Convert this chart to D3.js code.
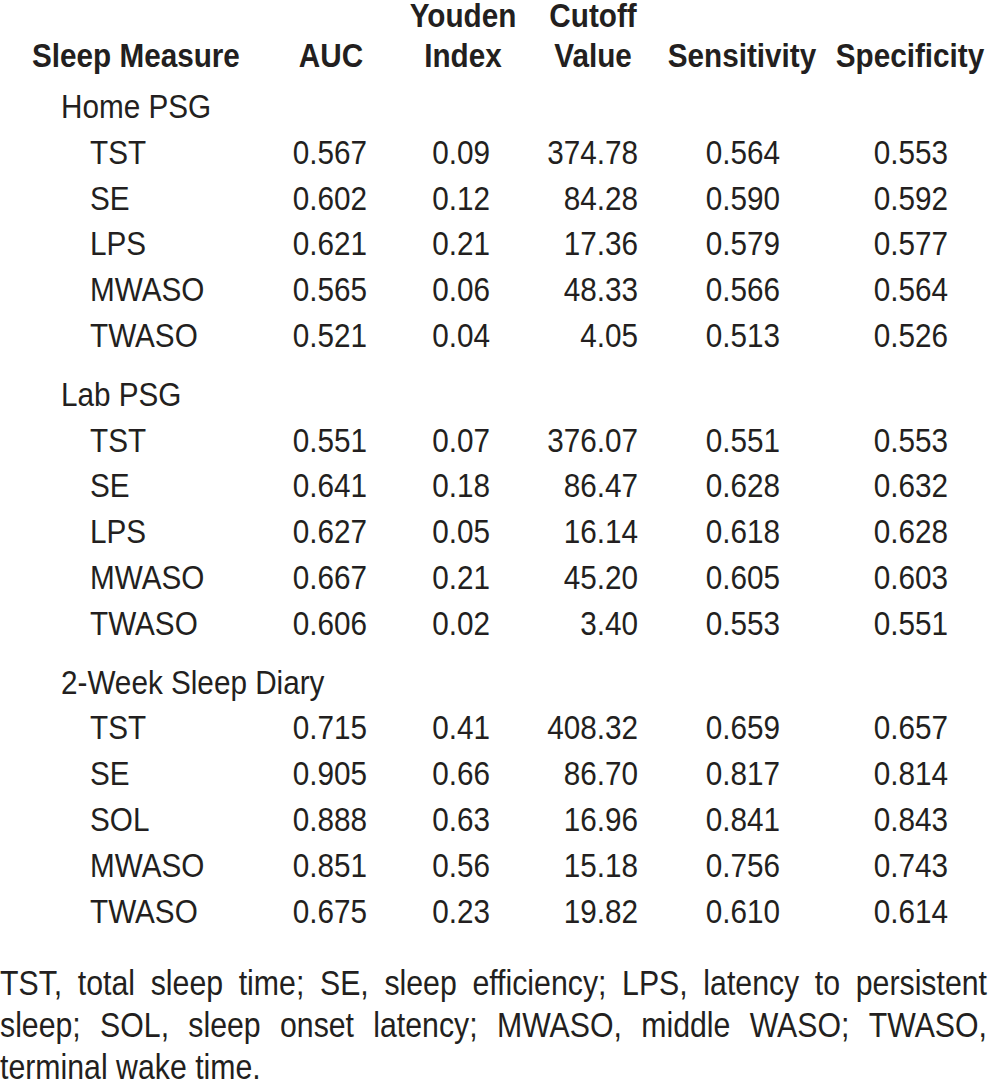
<!DOCTYPE html>
<html>
<head>
<meta charset="utf-8">
<script src="https://cdn.jsdelivr.net/npm/d3@7/dist/d3.min.js"></script>
<style>
  html, body { margin: 0; padding: 0; background: #fff; }
  svg { display: block; }
  text { font-family: "Liberation Sans", Arial, Helvetica, sans-serif; fill: #231f20; }
</style>
</head>
<body>
<svg id="chart" width="990" height="1080"></svg>
<script>
// ---------- data ----------
const headerLine1 = ["", "", "Youden", "Cutoff", "", ""];
const headerLine2 = ["Sleep Measure", "AUC", "Index", "Value", "Sensitivity", "Specificity"];
const groups = ["Home PSG", "Lab PSG", "2-Week Sleep Diary"];
const measures = [
  ["TST", "SE", "LPS", "MWASO", "TWASO"],
  ["TST", "SE", "LPS", "MWASO", "TWASO"],
  ["TST", "SE", "SOL", "MWASO", "TWASO"]
];
const auc = [
  [0.567, 0.602, 0.621, 0.565, 0.521],
  [0.551, 0.641, 0.627, 0.667, 0.606],
  [0.715, 0.905, 0.888, 0.851, 0.675]
];
const youden = [
  [0.09, 0.12, 0.21, 0.06, 0.04],
  [0.07, 0.18, 0.05, 0.21, 0.02],
  [0.41, 0.66, 0.63, 0.56, 0.23]
];
const cutoff = [
  [374.78, 84.28, 17.36, 48.33, 4.05],
  [376.07, 86.47, 16.14, 45.20, 3.40],
  [408.32, 86.70, 16.96, 15.18, 19.82]
];
const sensitivity = [
  [0.564, 0.590, 0.579, 0.566, 0.513],
  [0.551, 0.628, 0.618, 0.605, 0.553],
  [0.659, 0.817, 0.841, 0.756, 0.610]
];
const specificity = [
  [0.553, 0.592, 0.577, 0.564, 0.526],
  [0.553, 0.632, 0.628, 0.603, 0.551],
  [0.657, 0.814, 0.843, 0.743, 0.614]
];
const footnoteLines = [
  "TST, total sleep time; SE, sleep efficiency; LPS, latency to persistent",
  "sleep; SOL, sleep onset latency; MWASO, middle WASO; TWASO,",
  "terminal wake time."
];

// ---------- layout ----------
const svg = d3.select("#chart");
const FS = 33, SX = 0.9;          // table font size & horizontal condensing
const FFS = 35, FSX = 0.865;      // footnote font
const fmt3 = d3.format(".3f"), fmt2 = d3.format(".2f");

const columns = [
  { values: auc,         fmt: fmt3, right: 367, head: 331 },
  { values: youden,      fmt: fmt2, right: 490, head: 463 },
  { values: cutoff,      fmt: fmt2, right: 638, head: 593 },
  { values: sensitivity, fmt: fmt3, right: 780, head: 742 },
  { values: specificity, fmt: fmt3, right: 948, head: 910 }
];

const slotsPerGroup = 6, groupGap = 0.284;
const y = d3.scaleLinear().domain([0, 1]).range([118, 163.8]);
const slot = (g, k) => g * (slotsPerGroup + groupGap) + k;

function txt(sel, x, yy, s, anchor, weight, fs, sx) {
  return sel.append("text")
    .attr("transform", `translate(${x},${yy}) scale(${sx},1)`)
    .attr("text-anchor", anchor)
    .attr("font-size", fs)
    .attr("font-weight", weight)
    .text(s);
}

// header
const head = svg.append("g");
txt(head, 32, 67, headerLine2[0], "start", "bold", FS, SX);
columns.forEach((c, i) => {
  if (headerLine1[i + 1]) txt(head, c.head, 27, headerLine1[i + 1], "middle", "bold", FS, SX);
  txt(head, c.head, 67, headerLine2[i + 1], "middle", "bold", FS, SX);
});

// body
const body = svg.append("g");
groups.forEach((gName, g) => {
  txt(body, 61, y(slot(g, 0)), gName, "start", "normal", FS, SX);
  measures[g].forEach((m, k) => {
    const yy = y(slot(g, k + 1));
    txt(body, 90, yy, m, "start", "normal", FS, SX);
    columns.forEach(c => {
      txt(body, c.right, yy, c.fmt(c.values[g][k]), "end", "normal", FS, SX);
    });
  });
});

// footnote (justified)
const foot = svg.append("g");
const footY = d3.scaleLinear().domain([0, 1]).range([995, 1037]);
const footWidth = 987;
footnoteLines.forEach((line, i) => {
  const yy = footY(i);
  const words = line.split(" ");
  if (i === footnoteLines.length - 1) {
    txt(foot, 0, yy, line, "start", "normal", FFS, FSX);
    return;
  }
  const nodes = words.map(w => txt(foot, 0, yy, w, "start", "normal", FFS, FSX));
  const widths = nodes.map(n => n.node().getComputedTextLength() * FSX);
  const total = d3.sum(widths);
  const gap = (footWidth - total) / (words.length - 1);
  let x = 0;
  nodes.forEach((n, j) => {
    n.attr("transform", `translate(${x},${yy}) scale(${FSX},1)`);
    x += widths[j] + gap;
  });
});
</script>
</body>
</html>
